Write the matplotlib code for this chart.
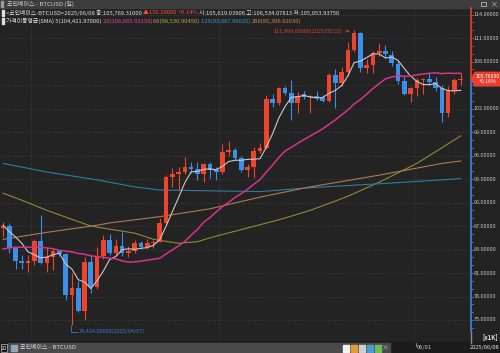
import matplotlib
matplotlib.use("Agg")
import matplotlib.pyplot as plt
import numpy as np
import pandas as pd
from matplotlib.patches import Rectangle, Polygon
from matplotlib.lines import Line2D

plt.rcParams['font.family'] = ['Noto Sans CJK KR', 'DejaVu Sans']

# ---------------- data (prices in thousands USD) ----------------
dates = pd.date_range('2025-03-27', '2025-06-08', freq='D')
opens = [86.8, 87.0, 84.2, 82.5, 82.3, 82.5, 85.1, 82.3, 83.0, 83.8,
         83.4, 78.2, 79.1, 76.2, 82.4, 79.2, 83.2, 85.2, 83.6, 84.4,
         83.5, 83.8, 84.8, 84.3, 84.8, 85.0, 87.4, 93.3, 93.6, 93.9,
         94.5, 94.3, 93.6, 94.9, 94.2, 93.9, 96.5, 96.7, 95.7, 94.2,
         94.5, 96.6, 97.0, 103.2, 102.7, 104.6, 104.0, 102.7, 103.9, 103.5,
         103.6, 103.4, 103.0, 106.3, 105.3, 106.7, 109.5, 111.6, 107.2, 107.6,
         109.1, 109.4, 108.9, 107.7, 105.5, 103.9, 104.6, 105.6, 105.8, 105.4,
         104.6, 101.4, 104.3, 105.619]
highs = [87.5, 87.4, 84.3, 83.3, 83.3, 85.3, 88.4, 84.3, 84.2, 84.0,
         83.6, 81.0, 80.0, 83.0, 83.3, 84.3, 85.8, 86.0, 85.4, 86.2,
         84.4, 85.2, 85.1, 85.4, 85.2, 88.0, 93.5, 94.4, 94.6, 95.8,
         95.2, 95.2, 95.0, 95.2, 94.5, 97.5, 97.8, 97.0, 96.0, 94.9,
         97.1, 97.6, 103.7, 103.9, 104.8, 104.9, 105.6, 104.1, 104.2, 103.8,
         104.2, 103.7, 106.5, 107.1, 107.3, 110.5, 111.999, 111.8, 108.3, 109.3,
         110.4, 110.1, 109.3, 108.2, 106.2, 104.8, 105.9, 105.9, 106.5, 106.0,
         105.0, 104.9, 105.9, 106.534]
lows = [85.6, 83.6, 81.5, 81.5, 81.1, 82.0, 82.2, 81.1, 81.4, 83.2,
        77.6, 74.424, 76.0, 75.0, 78.4, 78.9, 82.8, 83.3, 83.3, 83.2,
        83.1, 83.6, 84.1, 84.1, 84.2, 84.9, 87.1, 92.0, 91.6, 93.6,
        93.8, 92.9, 92.6, 93.1, 92.9, 93.6, 96.0, 95.4, 93.9, 93.3,
        93.1, 96.3, 96.8, 102.2, 102.5, 103.8, 100.5, 101.4, 103.2, 101.4,
        103.1, 102.8, 102.8, 102.1, 104.9, 106.2, 109.2, 106.7, 106.5, 106.5,
        108.7, 108.5, 107.5, 105.2, 103.7, 102.8, 103.6, 103.9, 105.0, 104.2,
        100.3, 100.9, 103.9, 105.054]
closes = [87.0, 84.2, 82.5, 82.3, 82.5, 85.1, 82.3, 83.0, 83.8, 83.4,
          78.2, 79.1, 76.2, 82.4, 79.2, 83.2, 85.2, 83.6, 84.4, 83.5,
          83.8, 84.8, 84.3, 84.8, 85.0, 87.4, 93.3, 93.6, 93.9, 94.5,
          94.3, 93.6, 94.9, 94.2, 93.9, 96.5, 96.7, 95.7, 94.2, 94.5,
          96.6, 97.0, 103.2, 102.7, 104.6, 104.0, 102.7, 103.6, 103.5, 103.6,
          103.4, 103.0, 106.3, 105.3, 106.7, 109.5, 111.6, 107.2, 107.6, 109.1,
          109.4, 109.0, 107.8, 105.5, 103.9, 104.6, 105.6, 105.8, 105.4, 104.6,
          101.4, 104.3, 105.6, 105.769]

ma5_lead = [87.1, 86.3, 85.6, 84.8]
ma20_lead = [84.1, 84.2, 84.3, 84.3, 84.3, 84.3, 84.3, 84.2, 84.1, 83.9,
             83.8, 83.7, 83.5, 83.4, 83.2, 83.1, 83.0, 82.9, 82.8]
ma60_idx = [0, 3, 7, 14, 17, 21, 24, 28, 31, 33, 44, 49, 55, 60, 66, 70, 73]
ma60_val = [91.2, 90.3, 89.0, 87.0, 86.6, 86.1, 85.3, 84.8, 85.0, 85.5,
            87.8, 89.0, 90.8, 92.6, 95.0, 97.0, 98.53]
ma120_idx = [0, 7, 15, 21, 25, 33, 41, 49, 60, 70, 73]
ma120_val = [95.0, 93.9, 92.9, 92.0, 91.6, 91.5, 91.4, 91.9, 92.4, 92.9, 93.07]
ma200_idx = [0, 7, 15, 17, 25, 33, 41, 49, 60, 70, 73]
ma200_val = [85.3, 86.2, 87.1, 87.4, 88.2, 89.2, 90.7, 92.0, 93.5, 95.0, 95.31]

ytick_vals = list(range(75, 115, 3))
header1 = [("<코인베이스-BTCUSD>2025/06/08 종:105,769.31000 ", '#e2e2e2'),
           ("▲150.29000 +0.14% ", '#ff4a36'),
           ("시:105,619.03906 고:106,534.07813 저:105,053.93750", '#e2e2e2')]
header2 = [("가격이동평균(SMA) 5(104,421.97000) ", '#e2e2e2'),
           ("20(106,605.93150) ", '#e8478a'),
           ("60(98,530.90450) ", '#b4a848'),
           ("120(93,067.96025) ", '#3d95d0'),
           ("200(95,306.62030)", '#d08a55')]

# ---------------- style ----------------
W, H = 500, 353
BG = '#232323'
UP = '#ee432d'
DN = '#3d8ee8'
GRID = '#454545'

fig = plt.figure(figsize=(W / 100, H / 100), dpi=100, facecolor=BG)
def fx(x): return x / W
def fy(y): return 1 - y / H

ax = fig.add_axes([0, fy(342), fx(471), (342 - 8) / H])
ax.set_facecolor(BG)
ax.set_xlim(-0.48, 74.64)
ax.set_ylim(72.19, 114.85)
for s in ax.spines.values():
    s.set_visible(False)
ax.set_xticks([]); ax.set_yticks([])

n = len(closes)
idx = np.arange(n)
o = np.array(opens); c = np.array(closes)
hi = np.array(highs); lo = np.array(lows)

# grid
for v in ytick_vals:
    ax.axhline(v, color=GRID, lw=0.6, ls=(0, (1, 2)), zorder=0)
for d in ['2025-04-01', '2025-05-01', '2025-06-01']:
    k = int(np.where(dates == pd.Timestamp(d))[0][0])
    ax.axvline(k - 0.5, color=GRID, lw=0.6, ls=(0, (1, 2)), zorder=0)

# candles
cols = [UP if cc >= oo else DN for oo, cc in zip(o, c)]
ax.vlines(idx, lo, hi, colors=cols, lw=0.8, zorder=2)
body = np.maximum(np.abs(c - o), 0.1)
ax.bar(idx, body, bottom=np.minimum(o, c), width=0.74, color=cols, lw=0, zorder=3)

# moving averages
cs = pd.Series(closes)
ma5 = cs.rolling(5).mean().to_numpy(); ma5[:4] = ma5_lead
ma20 = cs.rolling(20).mean().to_numpy(); ma20[:19] = ma20_lead
ax.plot(idx, ma5, color='#c9c9c9', lw=0.8, zorder=4)
ax.plot(idx, ma20, color='#d6338c', lw=1.1, zorder=4)
ax.plot(ma60_idx, ma60_val, color='#8e8a3a', lw=0.8, zorder=1)
ax.plot(ma120_idx, ma120_val, color='#2b7fa6', lw=0.8, zorder=1)
ax.plot(ma200_idx, ma200_val, color='#b07a52', lw=0.8, zorder=1)

# max / min annotations
imax = int(np.argmax(hi)); imin = int(np.argmin(lo))
ax.annotate('', xy=(imax - 0.25, hi[imax] - 0.1), xytext=(imax - 1.8, hi[imax] - 0.1),
            arrowprops=dict(arrowstyle='->', color='#d0432f', lw=0.6, mutation_scale=4))
ax.text(imax - 1.8, hi[imax] - 0.1, f"{hi[imax]*1000:,.5f}({dates[imax]:%Y/%m/%d})",
        color='#d0432f', fontsize=4.0, ha='right', va='center', zorder=5)
ax.plot([imin - 0.1, imin - 0.1, imin + 1.0], [lo[imin], 73.5, 73.5], color='#3a7bd0', lw=0.6)
ax.text(imin + 1.1, 73.5, f"{lo[imin]*1000:,.5f}({dates[imin]:%Y/%m/%d})",
        color='#3a7bd0', fontsize=4.0, ha='left', va='center')

# right price axis
last = c[-1]
def ypx(p):
    return 8 + (114.85 - p) / (114.85 - 72.19) * 334
yl = ypx(last)
yax = ax.get_yaxis_transform()
for v in ytick_vals:
    if abs(ypx(v) - yl) < 9:      # hidden behind the current-price tag
        continue
    ax.text(1.0064, v, f"{v}.00000", transform=yax, fontsize=3.95, color='#c4c4c4',
            va='center', ha='left', clip_on=False)
fig.add_artist(Line2D([fx(471), fx(471)], [fy(8), fy(yl)], color='#e8402c', lw=1.2))
fig.add_artist(Line2D([fx(471), fx(471)], [fy(yl), fy(331)], color='#3a86e0', lw=1.2))
fig.add_artist(Line2D([fx(471), fx(471)], [fy(331), fy(343)], color='#8a8a8a', lw=1.0))
for p in range(73, 115):
    yy = ypx(p)
    colr = '#e8402c' if p > last else '#3a86e0'
    if 8 < yy < 331:
        fig.add_artist(Line2D([fx(471), fx(473)], [fy(yy), fy(yy)], color=colr, lw=0.6))
tag = Polygon([[fx(471), fy(yl)], [fx(475), fy(yl - 6.8)], [fx(499.5), fy(yl - 6.8)],
               [fx(499.5), fy(yl + 6.8)], [fx(475), fy(yl + 6.8)]],
              closed=True, transform=fig.transFigure, color='#e8402c', zorder=5)
fig.add_artist(tag)
pct = (last - c[-2]) / c[-2] * 100
fig.text(fx(487.5), fy(yl), f"{last:.5f}\n+{pct:.2f}%", fontsize=3.7, color='white',
         va='center', ha='center', linespacing=1.05, zorder=6)
fig.text(fx(498), fy(337), "[x1K]", fontsize=4.3, color='#e0e0e0', ha='right', va='center', fontweight='bold')

# top title bar
fig.add_artist(Rectangle((0, fy(8)), 1, 8 / H, transform=fig.transFigure, color='#3d3d3d'))
fig.add_artist(Rectangle((fx(0.5), fy(6.5)), fx(2.5), 5 / H, transform=fig.transFigure, color='#9a9a9a'))
fig.text(fx(7), fy(4), "코인베이스 - BTCUSD (일)", fontsize=4.3, color='#cfcfcf', va='center', ha='left')
fig.add_artist(Rectangle((fx(481), fy(6)), fx(5), 4.5 / H, transform=fig.transFigure, fill=False, ec='#d0d0d0', lw=0.5))
fig.text(fx(494), fy(4), "×", fontsize=5, color='#d0d0d0', va='center', ha='center')

# header legend lines
def chain(parts, x, y, fs=4.2):
    fig.add_artist(Rectangle((fx(x - 4), fy(y + 3)), fx(1.6), 6 / H, transform=fig.transFigure, color='#e0e0e0'))
    prev = fig.text(fx(x), fy(y), parts[0][0], color=parts[0][1], fontsize=fs, va='center', ha='left')
    for s, colr in parts[1:]:
        prev = ax.annotate(s, xy=(1, 0.5), xycoords=prev, va='center', ha='left',
                           color=colr, fontsize=fs, annotation_clip=False)
chain(header1, 6, 12.5)
chain(header2, 6, 21)

# bottom bar
fig.add_artist(Rectangle((0, 0), 1, 11 / H, transform=fig.transFigure, color='#1b1b1b'))
fig.add_artist(Rectangle((fx(8), 0), fx(382), 10.5 / H, transform=fig.transFigure, color='#4a4a4a'))
fig.add_artist(Rectangle((fx(0.5), fy(352)), fx(7), 8 / H, transform=fig.transFigure, fill=False, ec='#bdbdbd', lw=0.5))
fig.text(fx(1), fy(348), "20", fontsize=4.0, color='#dddddd', va='center', ha='left')
fig.add_artist(Rectangle((fx(11), fy(351)), fx(6), 6 / H, transform=fig.transFigure, color='#8fa7b8'))
fig.text(fx(20), fy(347.5), "코인베이스 - BTCUSD", fontsize=4.3, color='#dcdcdc', va='center', ha='left')
for k, colr in enumerate(['#f2f2f2', '#e59a3a', '#cfcfcf', '#4a9ad8', '#6bbd5a']):
    fig.add_artist(Rectangle((fx(343 + 8 * k), fy(351.5)), fx(6), 7 / H, transform=fig.transFigure, color=colr))
fig.text(fx(385), fy(347.5), "×", fontsize=5, color='#bbbbbb', va='center', ha='center')
fig.add_artist(Line2D([fx(416), fx(416)], [fy(343), fy(346)], color='#9a9a9a', lw=0.6))
fig.text(fx(417), fy(348), "06/01", fontsize=4.1, color='#c8c8c8', va='center', ha='left')
fig.text(fx(499.5), fy(348), "2025/06/08", fontsize=4.1, color='#e6e6e6', va='center', ha='right')

fig.savefig('out.png', dpi=100, facecolor=BG)
